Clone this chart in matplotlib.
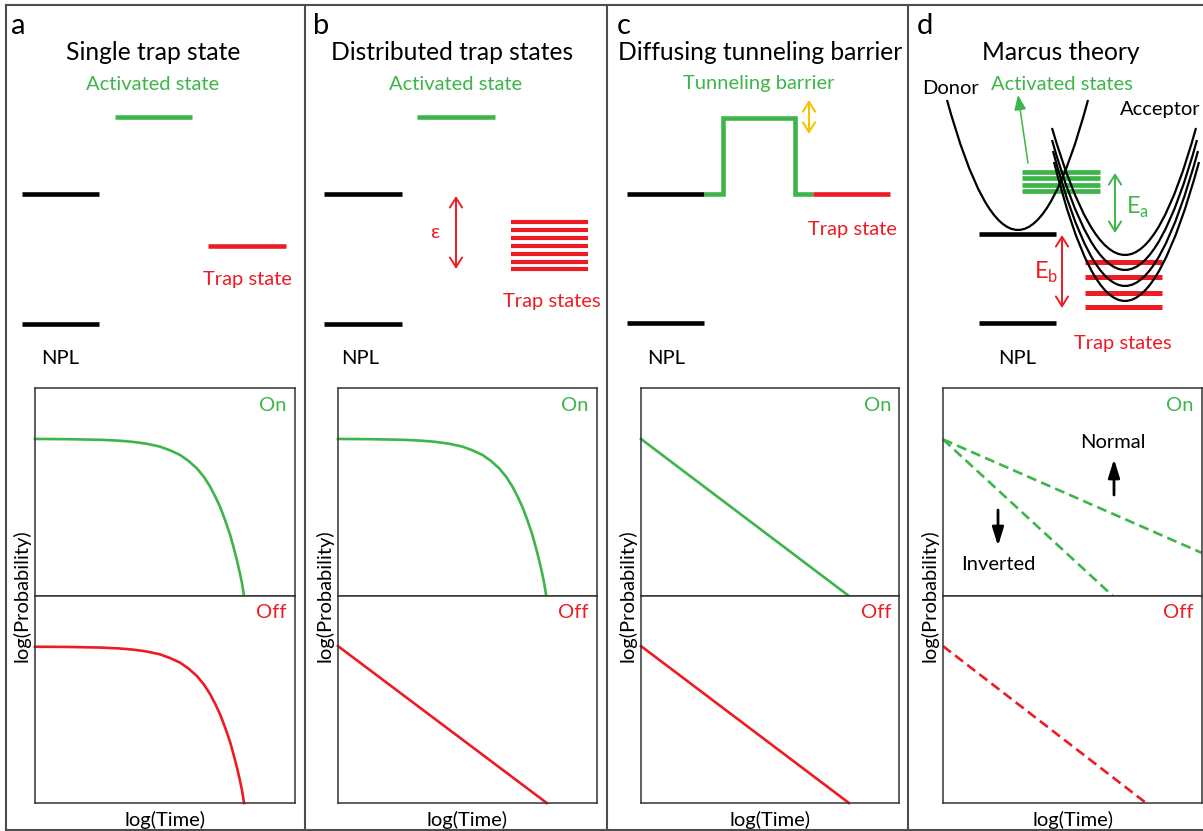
import matplotlib.pyplot as plt
from matplotlib.path import Path
from matplotlib.patches import PathPatch

plt.rcParams['font.family'] = ['Lato', 'DejaVu Sans']

W, H = 1203, 831
GREEN = '#3db54a'
RED = '#ed1c24'
GOLD = '#f5c400'
FRAME = '#4d4d4d'

# ---- blinking statistics, x = log(time), y = log(probability), each half 0..1
# exponential cut-off (single trap / activated state)
cutoff_t = [0.0, 0.12, 0.25, 0.32, 0.377, 0.43, 0.481, 0.52, 0.558, 0.59, 0.623,
            0.65, 0.673, 0.695, 0.712, 0.732, 0.75, 0.765, 0.777, 0.788, 0.796, 0.804]
cutoff_p = [0.755, 0.754, 0.751, 0.747, 0.741, 0.732, 0.718, 0.700, 0.678, 0.650, 0.613,
            0.572, 0.527, 0.474, 0.428, 0.362, 0.296, 0.228, 0.170, 0.110, 0.062, 0.0]
# power laws (start, end)
power_b_off = ([0.0, 0.806], [0.758, 0.0])
power_c_on = ([0.0, 0.806], [0.755, 0.0])
power_c_off = ([0.0, 0.806], [0.758, 0.0])
marcus_normal = ([0.0, 1.0], [0.753, 0.207])
marcus_inverted = ([0.0, 0.656], [0.753, 0.0])
marcus_off = ([0.0, 0.784], [0.758, 0.0])

# ---- energy diagrams, levels as (x start, x end, height) in figure pixels
a_npl = [(22, 99, 194), (22, 99, 324)]
a_active = (115, 192, 117)
a_trap = (208, 286, 246)

b_npl = [(324, 402, 194), (324, 402, 324)]
b_active = (417, 495, 117)
b_traps = [222.3, 230.1, 238.0, 245.8, 253.6, 261.5, 269.3]
b_trap_x = (511, 588)
b_eps = (456, 196, 269)

c_npl = [(627, 704, 194), (627, 704, 323)]
c_barrier_x = [704, 723, 723, 795, 795, 813]
c_barrier_y = [194, 194, 118, 118, 194, 194]
c_trap = (813, 890, 194)

d_npl = [(979, 1056, 234), (979, 1056, 323)]
d_active = [171.7, 178.2, 184.6, 191.0]
d_active_x = (1022, 1100)
d_traps = [261.7, 276.7, 292.7, 307.3]
d_trap_x = (1085, 1162)
# parabolas: left end, bottom, right end
donor = [(947, 100), (1018, 230), (1088, 100)]
acceptors = [
    [(1052, 128), (1125, 255), (1196, 128)],
    [(1052, 140), (1125, 270), (1197, 140)],
    [(1053, 151), (1125, 286), (1198, 151)],
    [(1054, 162), (1125, 301), (1199, 162)],
]

fig = plt.figure(figsize=(W / 100, H / 100), dpi=100)


def px_axes(left, top, right, bottom):
    return fig.add_axes([left / W, 1 - bottom / H, (right - left) / W, (bottom - top) / H])


def box(ax):
    ax.set_xlim(0, 1)
    ax.set_ylim(0, 1)
    ax.set_xticks([])
    ax.set_yticks([])
    for s in ax.spines.values():
        s.set_color('#333333')
        s.set_linewidth(1.1)


# plot columns (left, right) for a-d
cols = [(35, 295), (338, 597), (641, 899), (943, 1202)]
top, mid, bot = 388, 596, 803

panels = [
    ((cutoff_t, cutoff_p, '-'), [(cutoff_t, cutoff_p, '-')], None),
    ((cutoff_t, cutoff_p, '-'), [(power_b_off[0], power_b_off[1], '-')], None),
    ((power_c_on[0], power_c_on[1], '-'), [(power_c_off[0], power_c_off[1], '-')], None),
    (None, [(marcus_off[0], marcus_off[1], '--')],
     [(marcus_normal[0], marcus_normal[1], '--'), (marcus_inverted[0], marcus_inverted[1], '--')]),
]

for (l, r), (on, off, on_multi) in zip(cols, panels):
    ax_on = px_axes(l, top, r, mid)
    ax_off = px_axes(l, mid, r, bot)
    box(ax_on)
    box(ax_off)
    on_lines = on_multi if on_multi else [on]
    for t, p, ls in on_lines:
        line, = ax_on.plot(t, p, color=GREEN, lw=1.9, clip_on=False)
        if ls == '--':
            line.set_dashes((3.8, 2.0))
    for t, p, ls in off:
        line, = ax_off.plot(t, p, color=RED, lw=1.9, clip_on=False)
        if ls == '--':
            line.set_dashes((3.8, 2.0))
    ax_on.text(0.969, 0.915, 'On', color=GREEN, fontsize=14.5, ha='right', va='center',
               transform=ax_on.transAxes)
    ax_off.text(0.969, 0.922, 'Off', color=RED, fontsize=14.5, ha='right', va='center',
                transform=ax_off.transAxes)

# overlay in pixel coordinates for the diagrams and frame
ov = fig.add_axes([0, 0, 1, 1])
ov.set_xlim(0, W)
ov.set_ylim(H, 0)
ov.axis('off')

# frame
ov.plot([6, W], [5, 5], color=FRAME, lw=1.5)
ov.plot([6, W], [830, 830], color=FRAME, lw=1.5)
for x in [6, 305, 607, 908]:
    ov.plot([x, x], [5, H], color=FRAME, lw=1.5)


def level(x0, x1, y, color='black', lw=3.3):
    ov.plot([x0, x1], [y, y], color=color, lw=lw, solid_capstyle='butt')


def label(x, y, s, color='black', size=14.5):
    ov.text(x, y, s, color=color, fontsize=size, ha='center', va='center')


def double_arrow(x, y0, y1, color, lw=1.4):
    ov.annotate('', xy=(x, y0), xytext=(x, y1),
                arrowprops=dict(arrowstyle='<->,head_length=0.35,head_width=0.22',
                                color=color, lw=lw, shrinkA=0, shrinkB=0, mutation_scale=20))


def solid_arrow(x0, y0, x1, y1, color, lw, hl, hw):
    ov.annotate('', xy=(x1, y1), xytext=(x0, y0),
                arrowprops=dict(arrowstyle='-|>,head_length=%s,head_width=%s' % (hl, hw),
                                color=color, lw=lw, shrinkA=0, shrinkB=0, mutation_scale=20))


def parabola(pts, lw=1.6):
    (x0, y0), (xm, ym), (x2, y2) = pts
    ctrl = (2 * xm - 0.5 * (x0 + x2), 2 * ym - 0.5 * (y0 + y2))
    path = Path([(x0, y0), ctrl, (x2, y2)], [Path.MOVETO, Path.CURVE3, Path.CURVE3])
    ov.add_patch(PathPatch(path, fill=False, edgecolor='black', lw=lw, zorder=4))


# titles and panel letters
for x, s in [(18, 'a'), (321, 'b'), (624, 'c'), (925, 'd')]:
    label(x, 26, s, size=21)
for x, s in [(153, 'Single trap state'), (452, 'Distributed trap states'),
             (760, 'Diffusing tunneling barrier'), (1061, 'Marcus theory')]:
    label(x, 53, s, size=17.7)

# a: single trap state
for x0, x1, y in a_npl:
    level(x0, x1, y)
level(*a_active, color=GREEN)
level(*a_trap, color=RED)
label(153, 84, 'Activated state', GREEN)
label(247, 280, 'Trap state', RED)
label(60, 359, 'NPL')

# b: distributed trap states
for x0, x1, y in b_npl:
    level(x0, x1, y)
level(*b_active, color=GREEN)
for y in b_traps:
    level(b_trap_x[0], b_trap_x[1], y, color=RED, lw=3.0)
double_arrow(b_eps[0], b_eps[1], b_eps[2], RED)
label(435, 233, 'ε', RED)
label(456, 84, 'Activated state', GREEN)
label(552, 301, 'Trap states', RED)
label(360, 359, 'NPL')

# c: diffusing tunneling barrier
for x0, x1, y in c_npl:
    level(x0, x1, y)
ov.plot(c_barrier_x, c_barrier_y, color=GREEN, lw=3.3, solid_joinstyle='miter',
        solid_capstyle='butt')
level(*c_trap, color=RED)
double_arrow(809, 100, 134, GOLD, lw=1.5)
label(759, 84, 'Tunneling barrier', GREEN)
label(852, 229, 'Trap state', RED)
label(666, 359, 'NPL')

# d: Marcus theory
for x0, x1, y in d_npl:
    level(x0, x1, y)
for y in d_active:
    level(d_active_x[0], d_active_x[1], y, color=GREEN, lw=3.4)
for y in d_traps:
    level(d_trap_x[0], d_trap_x[1], y, color=RED, lw=3.6)
parabola(donor)
for pts in acceptors:
    parabola(pts)
solid_arrow(1028, 163, 1018, 95, GREEN, 1.1, 0.45, 0.18)
double_arrow(1115, 173, 233, GREEN)
double_arrow(1062, 235, 308, RED)
ov.text(1126, 207, r'E$_\mathregular{a}$', color=GREEN, fontsize=17, ha='left', va='center')
ov.text(1034, 272, r'E$_\mathregular{b}$', color=RED, fontsize=17, ha='left', va='center')
label(950, 89, 'Donor')
label(1062, 84, 'Activated states', GREEN)
label(1160, 109, 'Acceptor')
label(1123, 343, 'Trap states', RED)
label(1017, 358, 'NPL')

# d: normal / inverted region arrows
solid_arrow(1114, 495, 1114, 459, 'black', 2.0, 0.55, 0.17)
solid_arrow(998, 510, 998, 546, 'black', 2.0, 0.55, 0.17)
label(1113, 442, 'Normal')
label(998, 565, 'Inverted')

# axis labels
for l, r in cols:
    label((l + r) / 2, 820, 'log(Time)')
    ov.text(l - 14, (top + bot) / 2, 'log(Probability)', fontsize=14.5, rotation=90,
            ha='center', va='center')

fig.savefig('out.png', dpi=100)
